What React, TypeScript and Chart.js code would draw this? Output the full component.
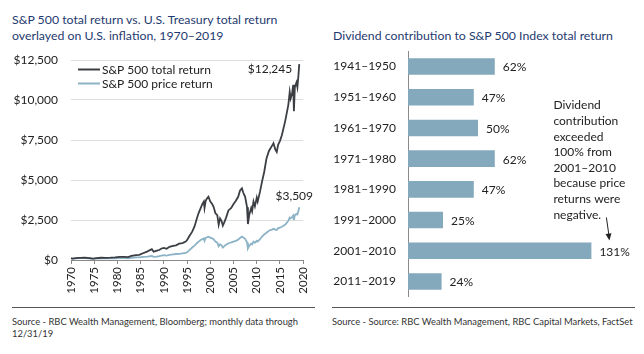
import React, { useEffect, useRef } from 'react';
import { Chart, registerables } from 'chart.js';

Chart.register(...registerables);

const FONT = 'Lato, "Open Sans", sans-serif';
Chart.defaults.font.family = FONT;
Chart.defaults.color = '#222';

// ---- Left chart data ----
const years = [
  1970.0, 1970.4, 1971.0, 1972.0, 1972.9, 1973.6, 1974.8, 1975.5, 1976.5, 1977.5,
  1978.5, 1979.5, 1980.5, 1981.5, 1982.3, 1983.0, 1984.0, 1984.7, 1985.5, 1986.5,
  1987.0, 1987.4, 1987.8, 1988.5, 1989.0, 1989.5, 1990.0, 1990.6, 1991.2, 1992.0,
  1992.6, 1993.3, 1994.0, 1994.7, 1995.0, 1995.5, 1996.1, 1996.6, 1997.1, 1997.5,
  1997.9, 1998.3, 1998.6, 1998.75, 1999.0, 1999.3, 1999.6, 2000.0, 2000.4, 2000.7,
  2001.1, 2001.5, 2001.8, 2002.1, 2002.4, 2002.7, 2003.0, 2003.4, 2003.9, 2004.5,
  2005.0, 2005.5, 2006.0, 2006.4, 2006.8, 2007.1, 2007.5, 2007.9, 2008.1, 2008.4,
  2008.8, 2009.0, 2009.3, 2009.6, 2010.0, 2010.2, 2010.7, 2011.1, 2011.6, 2012.1,
  2012.6, 2012.9, 2013.3, 2013.6, 2014.0, 2014.3, 2014.6, 2015.0, 2015.4, 2016.1,
  2016.8, 2017.1, 2017.3, 2017.6, 2017.85, 2018.0, 2018.2, 2018.55, 2018.75, 2018.95,
  2019.15,
];
const totalReturn = [
  100, 85, 115, 130, 145, 130, 90, 120, 140, 135,
  145, 165, 200, 195, 185, 260, 300, 320, 420, 540,
  620, 680, 520, 580, 625, 720, 760, 700, 820, 880,
  920, 1020, 1060, 1150, 1250, 1500, 1770, 2100, 2600, 2950,
  3230, 3500, 3650, 3250, 3700, 3850, 3950, 3650, 3500, 3330,
  2920, 2800, 2200, 2600, 2450, 2150, 2350, 2650, 3100, 3250,
  3500, 3700, 3950, 4350, 4480, 4200, 3950, 3300, 2250, 2850,
  3250, 3050, 3650, 3350, 3900, 3650, 4270, 4850, 5500, 6350,
  6800, 6950, 7150, 7300, 6900, 6750, 7200, 7450, 7800, 8650,
  9700, 10500, 10100, 10400, 10950, 9300, 10800, 11100, 10800, 11450,
  12245,
];
const priceReturn = [
  100, 85, 105, 112, 120, 108, 72, 95, 105, 98,
  100, 108, 120, 112, 105, 140, 160, 170, 190, 215,
  235, 255, 200, 215, 240, 275, 300, 280, 320, 350,
  375, 380, 410, 440, 480, 620, 780, 900, 1050, 1150,
  1250, 1300, 1350, 1200, 1380, 1420, 1460, 1400, 1350, 1300,
  1150, 1080, 850, 980, 920, 780, 870, 950, 1050, 1100,
  1150, 1200, 1270, 1380, 1460, 1400, 1320, 1100, 730, 900,
  1020, 980, 1150, 1080, 1200, 1150, 1300, 1450, 1600, 1700,
  1820, 1870, 1900, 1950, 1900, 1880, 1990, 2020, 2080, 2200,
  2450, 2650, 2600, 2680, 2780, 2500, 2800, 2880, 2850, 3050,
  3300,
];
const seriesNames = ['S&P 500 total return', 'S&P 500 price return'];
const endLabels = ['$12,245', '$3,509'];
const yTicks = [0, 2500, 5000, 7500, 10000, 12500];

// ---- Right chart data ----
const periods = ['1941–1950', '1951–1960', '1961–1970', '1971–1980', '1981–1990', '1991–2000', '2001–2010', '2011–2019'];
const dividendShare = [62, 47, 50, 62, 47, 25, 131, 24];
const noteLines = ['Dividend', 'contribution', 'exceeded', '100% from', '2001–2010', 'because price', 'returns were', 'negative.'];
const notePeriod = '2001–2010';

const DARK = '#3b3e43';
const LIGHT = '#8cb3c6';
const BAR = '#84a9bc';
const TITLE = '#1f3b6f';

function LineChart() {
  const ref = useRef<HTMLCanvasElement>(null);
  useEffect(() => {
    const overlay = {
      id: 'overlay',
      afterDatasetsDraw(chart: any) {
        const ctx = chart.ctx;
        const area = chart.chartArea;
        ctx.save();
        // legend inside plot
        ctx.font = `12px ${FONT}`;
        ctx.textBaseline = 'middle';
        chart.data.datasets.forEach((ds: any, i: number) => {
          const y = area.top + 9.5 + 14 * i;
          ctx.strokeStyle = ds.borderColor;
          ctx.lineWidth = 2;
          ctx.beginPath();
          ctx.moveTo(area.left + 7, y);
          ctx.lineTo(area.left + 29, y);
          ctx.stroke();
          ctx.fillStyle = '#222';
          ctx.textAlign = 'left';
          ctx.fillText(ds.label, area.left + 31, y + 0.5);
        });
        // end labels
        const m0 = chart.getDatasetMeta(0).data;
        const m1 = chart.getDatasetMeta(1).data;
        const p0 = m0[m0.length - 1];
        const p1 = m1[m1.length - 1];
        ctx.fillStyle = '#222';
        ctx.textAlign = 'right';
        ctx.fillText(endLabels[0], p0.x - 7, p0.y + 5);
        ctx.textAlign = 'center';
        ctx.fillText(endLabels[1], p1.x - 5, p1.y - 11);
        ctx.restore();
      },
    };
    const chart = new Chart(ref.current as HTMLCanvasElement, {
      type: 'line',
      data: {
        datasets: [
          {
            label: seriesNames[0],
            data: years.map((x, i) => ({ x, y: totalReturn[i] })),
            borderColor: DARK,
            borderWidth: 1.8,
            pointRadius: 0,
            tension: 0,
          },
          {
            label: seriesNames[1],
            data: years.map((x, i) => ({ x, y: priceReturn[i] })),
            borderColor: LIGHT,
            borderWidth: 1.8,
            pointRadius: 0,
            tension: 0,
          },
        ],
      },
      options: {
        animation: false,
        responsive: false,
        maintainAspectRatio: false,
        layout: { padding: { top: 10, right: 15, left: 0, bottom: 0 } },
        scales: {
          x: {
            type: 'linear',
            min: 1970,
            max: 2020,
            ticks: {
              stepSize: 5,
              minRotation: 90,
              maxRotation: 90,
              autoSkip: false,
              padding: 3,
              font: { size: 11.5 },
              color: '#222',
              callback: (v: any) => String(v),
            },
            grid: { drawOnChartArea: false, drawTicks: true, tickLength: 4, color: '#8a8a8a' },
            border: { color: '#8a8a8a' },
            afterFit: (s: any) => { s.height = 40; },
          },
          y: {
            min: 0,
            max: 12500,
            afterBuildTicks: (s: any) => { s.ticks = yTicks.map((v) => ({ value: v })); },
            ticks: {
              padding: 0,
              font: { size: 12 },
              color: '#222',
              callback: (v: any) => '$' + Number(v).toLocaleString('en-US'),
            },
            grid: { drawTicks: true, tickLength: 13, tickColor: 'rgba(0,0,0,0)', color: '#dedede' },
            border: { display: false },
            afterFit: (s: any) => { s.width = 71; },
          },
        },
        plugins: { legend: { display: false }, tooltip: { enabled: false } },
      },
      plugins: [overlay],
    });
    return () => chart.destroy();
  }, []);
  return (
    <canvas
      ref={ref}
      width={320}
      height={250}
      style={{ position: 'absolute', left: 0, top: 50, width: 320, height: 250 }}
    />
  );
}

function BarChart() {
  const ref = useRef<HTMLCanvasElement>(null);
  useEffect(() => {
    const overlay = {
      id: 'barOverlay',
      afterDatasetsDraw(chart: any) {
        const ctx = chart.ctx;
        const meta = chart.getDatasetMeta(0);
        ctx.save();
        ctx.font = `12px ${FONT}`;
        ctx.fillStyle = '#222';
        ctx.textAlign = 'left';
        ctx.textBaseline = 'middle';
        meta.data.forEach((bar: any, i: number) => {
          ctx.fillText(dividendShare[i] + '%', bar.x + 8, bar.y + 1);
        });
        // annotation anchored on 2001–2010 bar
        const idx = periods.indexOf(notePeriod);
        const b = meta.data[idx].getProps(['x', 'y', 'height']);
        const tipX = b.x + 18;
        const tipY = b.y - b.height / 2 - 2;
        const tailX = tipX - 3;
        const tailY = tipY - 23;
        ctx.strokeStyle = '#222';
        ctx.lineWidth = 1;
        ctx.beginPath();
        ctx.moveTo(tailX, tailY);
        ctx.lineTo(tipX - 0.6, tipY - 6);
        ctx.stroke();
        const ang = Math.atan2(tipY - tailY, tipX - tailX);
        ctx.beginPath();
        ctx.moveTo(tipX, tipY);
        ctx.lineTo(tipX - 7 * Math.cos(ang) + 3 * Math.sin(ang), tipY - 7 * Math.sin(ang) - 3 * Math.cos(ang));
        ctx.lineTo(tipX - 7 * Math.cos(ang) - 3 * Math.sin(ang), tipY - 7 * Math.sin(ang) + 3 * Math.cos(ang));
        ctx.closePath();
        ctx.fillStyle = '#222';
        ctx.fill();
        ctx.textAlign = 'left';
        ctx.textBaseline = 'middle';
        const textX = tipX - 56;
        const lastY = tipY - 25.8;
        noteLines.forEach((line, i) => {
          ctx.fillText(line, textX, lastY - (noteLines.length - 1 - i) * 15.6);
        });
        ctx.restore();
      },
    };
    const chart = new Chart(ref.current as HTMLCanvasElement, {
      type: 'bar',
      data: {
        labels: periods,
        datasets: [
          {
            data: dividendShare,
            backgroundColor: BAR,
            categoryPercentage: 1,
            barPercentage: 0.54,
          },
        ],
      },
      options: {
        indexAxis: 'y',
        animation: false,
        responsive: false,
        maintainAspectRatio: false,
        layout: { padding: { top: 6, bottom: 6, right: 20, left: 0 } },
        scales: {
          x: { display: false, min: 0, max: 150 },
          y: {
            grid: { display: true, drawOnChartArea: false, drawTicks: true, tickLength: 12, tickColor: 'rgba(0,0,0,0)' },
            border: { display: true, color: '#8a8a8a' },
            ticks: { padding: 0, color: '#222', font: { size: 12 } },
            afterFit: (s: any) => { s.width = 86; },
          },
        },
        plugins: { legend: { display: false }, tooltip: { enabled: false } },
      },
      plugins: [overlay],
    });
    return () => chart.destroy();
  }, []);
  return (
    <canvas
      ref={ref}
      width={316}
      height={260}
      style={{ position: 'absolute', left: 322, top: 44, width: 316, height: 260 }}
    />
  );
}

export default function App() {
  const titleStyle: React.CSSProperties = {
    position: 'absolute',
    color: TITLE,
    fontSize: 12.3,
    lineHeight: '16px',
    whiteSpace: 'nowrap',
  };
  const srcStyle: React.CSSProperties = {
    position: 'absolute',
    color: '#333',
    fontSize: 9.4,
    lineHeight: '11.5px',
    whiteSpace: 'nowrap',
  };
  return (
    <div
      style={{
        position: 'absolute',
        left: 0,
        top: 0,
        width: 644,
        height: 354,
        background: '#fff',
        fontFamily: FONT,
        overflow: 'hidden',
      }}
    >
      <div style={{ ...titleStyle, left: 12, top: 12 }}>
        S&amp;P 500 total return vs. U.S. Treasury total return
        <br />
        overlayed on U.S. inflation, 1970–2019
      </div>
      <div style={{ ...titleStyle, left: 333, top: 28 }}>Dividend contribution to S&amp;P 500 Index total return</div>
      <LineChart />
      <BarChart />
      <div style={{ position: 'absolute', left: 12, top: 307, width: 303, height: 1, background: '#555' }} />
      <div style={{ position: 'absolute', left: 332, top: 307, width: 303, height: 1, background: '#555' }} />
      <div style={{ ...srcStyle, left: 12, top: 316 }}>
        Source - RBC Wealth Management, Bloomberg; monthly data through
        <br />
        12/31/19
      </div>
      <div style={{ ...srcStyle, left: 332, top: 316 }}>
        Source - Source: RBC Wealth Management, RBC Capital Markets, FactSet
      </div>
    </div>
  );
}
